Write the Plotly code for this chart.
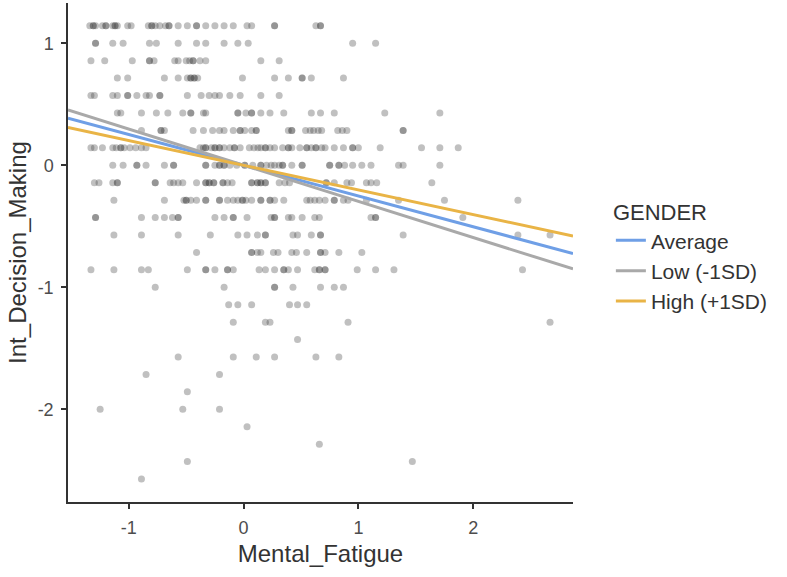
import plotly.graph_objects as go

# ---- scatter data: x values (Mental_Fatigue) grouped by their y level (Int_Decision_Making, in steps of 1/7)
y_levels = [8/7, 1.0, 6/7, 5/7, 4/7, 3/7, 2/7, 1/7, 0.0, -1/7, -2/7, -3/7, -4/7, -5/7, -6/7, -1.0,
            -8/7, -9/7, -10/7, -11/7, -12/7, -13/7, -2.0, -15/7, -16/7, -17/7, -18/7]

x_r01 = [-1.34, -1.31, -1.31, -1.29, -1.23, -1.20, -1.20, -1.14, -1.12, -1.12, -1.10, -1.01, -0.98, -0.83,
         -0.80, -0.80, -0.77, -0.73, -0.68, -0.65, -0.65, -0.57, -0.49, -0.41, -0.41, -0.33, -0.25, -0.17,
         -0.09, 0.03, 0.07, 0.27, 0.27, 0.63, 0.67, 0.67]
x_r02 = [-1.29, -1.29, -1.14, -1.05, -0.82, -0.76, -0.57, -0.41, -0.33, -0.17, -0.05, 0.04, 0.95, 1.15]
x_r03 = [-1.33, -1.21, -0.97, -0.82, -0.82, -0.78, -0.60, -0.57, -0.50, -0.47, -0.44, -0.44, -0.38, -0.33,
         0.15, 0.31]
x_r04 = [-1.10, -1.01, -0.69, -0.57, -0.49, -0.46, -0.46, -0.43, -0.43, -0.40, -0.01, 0.27, 0.39, 0.51,
         0.51, 0.59, 0.87]
x_r05 = [-1.33, -1.30, -1.14, -1.10, -1.01, -1.01, -0.93, -0.85, -0.82, -0.73, -0.73, -0.49, -0.37, -0.30,
         -0.25, -0.21, -0.12, -0.03, 0.15, 0.31]
x_r06 = [-1.10, -1.07, -0.89, -0.76, -0.66, -0.53, -0.46, -0.46, -0.35, -0.33, -0.05, -0.05, 0.02, 0.07,
         0.07, 0.15, 0.23, 0.35, 0.59, 0.67, 0.79, 1.23, 1.71]
x_r07 = [-0.89, -0.72, -0.72, -0.69, -0.44, -0.35, -0.27, -0.21, -0.17, -0.09, -0.03, -0.03, 0.01, 0.07,
         0.11, 0.11, 0.39, 0.42, 0.42, 0.54, 0.58, 0.61, 0.65, 0.68, 0.82, 0.86, 0.90, 1.39, 1.39]
x_r08 = [-1.33, -1.30, -1.23, -1.14, -1.11, -1.07, -1.07, -1.04, -0.99, -0.94, -0.89, -0.85, -0.38, -0.35,
         -0.33, -0.33, -0.28, -0.25, -0.25, -0.21, -0.21, -0.17, -0.12, -0.08, -0.08, -0.03, 0.05, 0.09,
         0.125, 0.15, 0.19, 0.19, 0.23, 0.27, 0.34, 0.39, 0.39, 0.42, 0.49, 0.55, 0.55, 0.59, 0.63, 0.63,
         0.68, 0.71, 0.79, 0.87, 0.95, 0.95, 1.00, 1.19, 1.55, 1.71, 1.87]
x_r09 = [-1.14, -1.05, -0.93, -0.93, -0.85, -0.69, -0.61, -0.61, -0.33, -0.33, -0.25, -0.21, -0.21, -0.17,
         -0.17, -0.12, -0.06, 0.01, 0.01, 0.08, 0.15, 0.15, 0.20, 0.24, 0.27, 0.31, 0.34, 0.34, 0.42, 0.51,
         0.51, 0.75, 0.75, 0.83, 0.83, 0.88, 0.95, 1.03, 1.11, 1.35, 1.39, 1.71]
x_r10 = [-1.30, -1.26, -1.14, -1.10, -1.10, -0.77, -0.77, -0.64, -0.61, -0.57, -0.53, -0.41, -0.33, -0.33,
         -0.30, -0.30, -0.26, -0.26, -0.18, -0.18, -0.14, -0.10, 0.07, 0.07, 0.12, 0.12, 0.15, 0.15, 0.19,
         0.19, 0.31, 0.36, 0.40, 0.72, 0.72, 0.79, 0.90, 0.94, 1.07, 1.11, 1.16, 1.64]
x_r11 = [-1.13, -0.69, -0.52, -0.50, -0.50, -0.46, -0.41, -0.33, -0.33, -0.21, -0.21, -0.14, -0.09, -0.05,
         -0.01, -0.01, 0.02, 0.07, 0.15, 0.15, 0.23, 0.23, 0.27, 0.35, 0.55, 0.58, 0.62, 0.66, 0.71, 0.79,
         0.79, 0.87, 0.91, 1.07, 1.35, 1.75, 2.39]
x_r12 = [-1.29, -1.29, -0.89, -0.77, -0.69, -0.62, -0.57, -0.57, -0.25, -0.17, -0.09, -0.09, 0.03, 0.24,
         0.27, 0.27, 0.39, 0.42, 0.51, 0.62, 0.66, 1.11, 1.15, 1.15, 1.91]
x_r13 = [-1.13, -0.89, -0.57, -0.29, -0.05, 0.03, 0.12, 0.19, 0.19, 0.43, 0.47, 0.59, 0.67, 0.67, 1.39,
         2.39, 2.67]
x_r14 = [-0.41, 0.07, 0.07, 0.12, 0.15, 0.26, 0.30, 0.42, 0.46, 0.55, 0.67, 0.67, 0.71, 0.83, 1.03]
x_r15 = [-1.33, -1.13, -0.89, -0.83, -0.49, -0.33, -0.33, -0.25, -0.14, -0.14, -0.09, 0.135, 0.19, 0.27,
         0.35, 0.35, 0.39, 0.47, 0.62, 0.66, 0.66, 0.71, 0.71, 0.99, 1.15, 1.31, 2.43]
x_r16 = [-0.77, -0.17, 0.27, 0.27, 0.43, 0.67, 0.79, 0.87]
x_r17 = [-0.13, -0.05, 0.07, 0.40, 0.47, 0.55]
x_r18 = [-0.09, 0.19, 0.23, 0.91, 2.67]
x_r19 = [0.47]
x_r20 = [-0.57, -0.09, 0.11, 0.27, 0.63, 0.83]
x_r21 = [-0.85, -0.21]
x_r22 = [-0.49]
x_r23 = [-1.25, -0.53, -0.21]
x_r24 = [0.03]
x_r25 = [0.66]
x_r26 = [-0.49, 1.47]
x_r27 = [-0.89]

x_rows = [x_r01, x_r02, x_r03, x_r04, x_r05, x_r06, x_r07, x_r08, x_r09, x_r10, x_r11, x_r12, x_r13,
          x_r14, x_r15, x_r16, x_r17, x_r18, x_r19, x_r20, x_r21, x_r22, x_r23, x_r24, x_r25, x_r26, x_r27]

# ---- simple-slope lines (moderator GENDER)
line_names = ["Average", "Low (-1SD)", "High (+1SD)"]
line_intercepts = [0.0, 0.0, 0.0]
line_slopes = [-0.252, -0.296, -0.202]
line_colors = ["#6F9FE6", "#A9A9A9", "#E9B446"]

x_range = [-1.53, 2.87]
y_range = [-2.76, 1.33]

x_ticks = [-1, 0, 1, 2]
y_ticks = [-2, -1, 0, 1]

# ---- build
px_, py_ = [], []
for yl, xs in zip(y_levels, x_rows):
    px_.extend(xs)
    py_.extend([yl] * len(xs))

fig = go.Figure()
fig.add_trace(go.Scatter(
    x=px_, y=py_, mode="markers", showlegend=False, hoverinfo="skip",
    marker=dict(size=7, color="rgba(60,60,60,0.32)", line=dict(width=0)),
))
for name, b0, b1, col in zip(line_names, line_intercepts, line_slopes, line_colors):
    fig.add_trace(go.Scatter(
        x=x_range, y=[b0 + b1 * x_range[0], b0 + b1 * x_range[1]],
        mode="lines", name=name, line=dict(color=col, width=3),
    ))

font_family = "Liberation Sans, Arial, sans-serif"
fig.update_layout(
    width=787, height=577,
    margin=dict(l=68, r=214, t=3, b=75),
    paper_bgcolor="white", plot_bgcolor="white",
    font=dict(family=font_family, color="#333333"),
    legend=dict(
        title=dict(text="GENDER", font=dict(size=22, color="#333333")),
        font=dict(size=21, color="#333333"),
        x=1.075, xanchor="left", y=0.622, yanchor="top",
        bgcolor="rgba(0,0,0,0)", tracegroupgap=0,
    ),
    xaxis=dict(
        range=x_range, showgrid=False, zeroline=False,
        showline=True, linecolor="#333333", linewidth=1.5,
        ticks="outside", ticklen=5, tickwidth=1.5, tickcolor="#333333",
        tickvals=x_ticks, ticktext=[str(v) for v in x_ticks],
        tickfont=dict(size=18, color="#4d4d4d"), ticklabelstandoff=4,
        title=dict(text="Mental_Fatigue", font=dict(size=24, color="#333333"), standoff=8),
    ),
    yaxis=dict(
        range=y_range, showgrid=False, zeroline=False,
        showline=True, linecolor="#333333", linewidth=1.5,
        ticks="outside", ticklen=5, tickwidth=1.5, tickcolor="#333333",
        tickvals=y_ticks, ticktext=[str(v) for v in y_ticks],
        tickfont=dict(size=18, color="#4d4d4d"), ticklabelstandoff=4,
        title=dict(text="Int_Decision_Making", font=dict(size=24, color="#333333"), standoff=4),
    ),
)

fig.write_html("out.html")
